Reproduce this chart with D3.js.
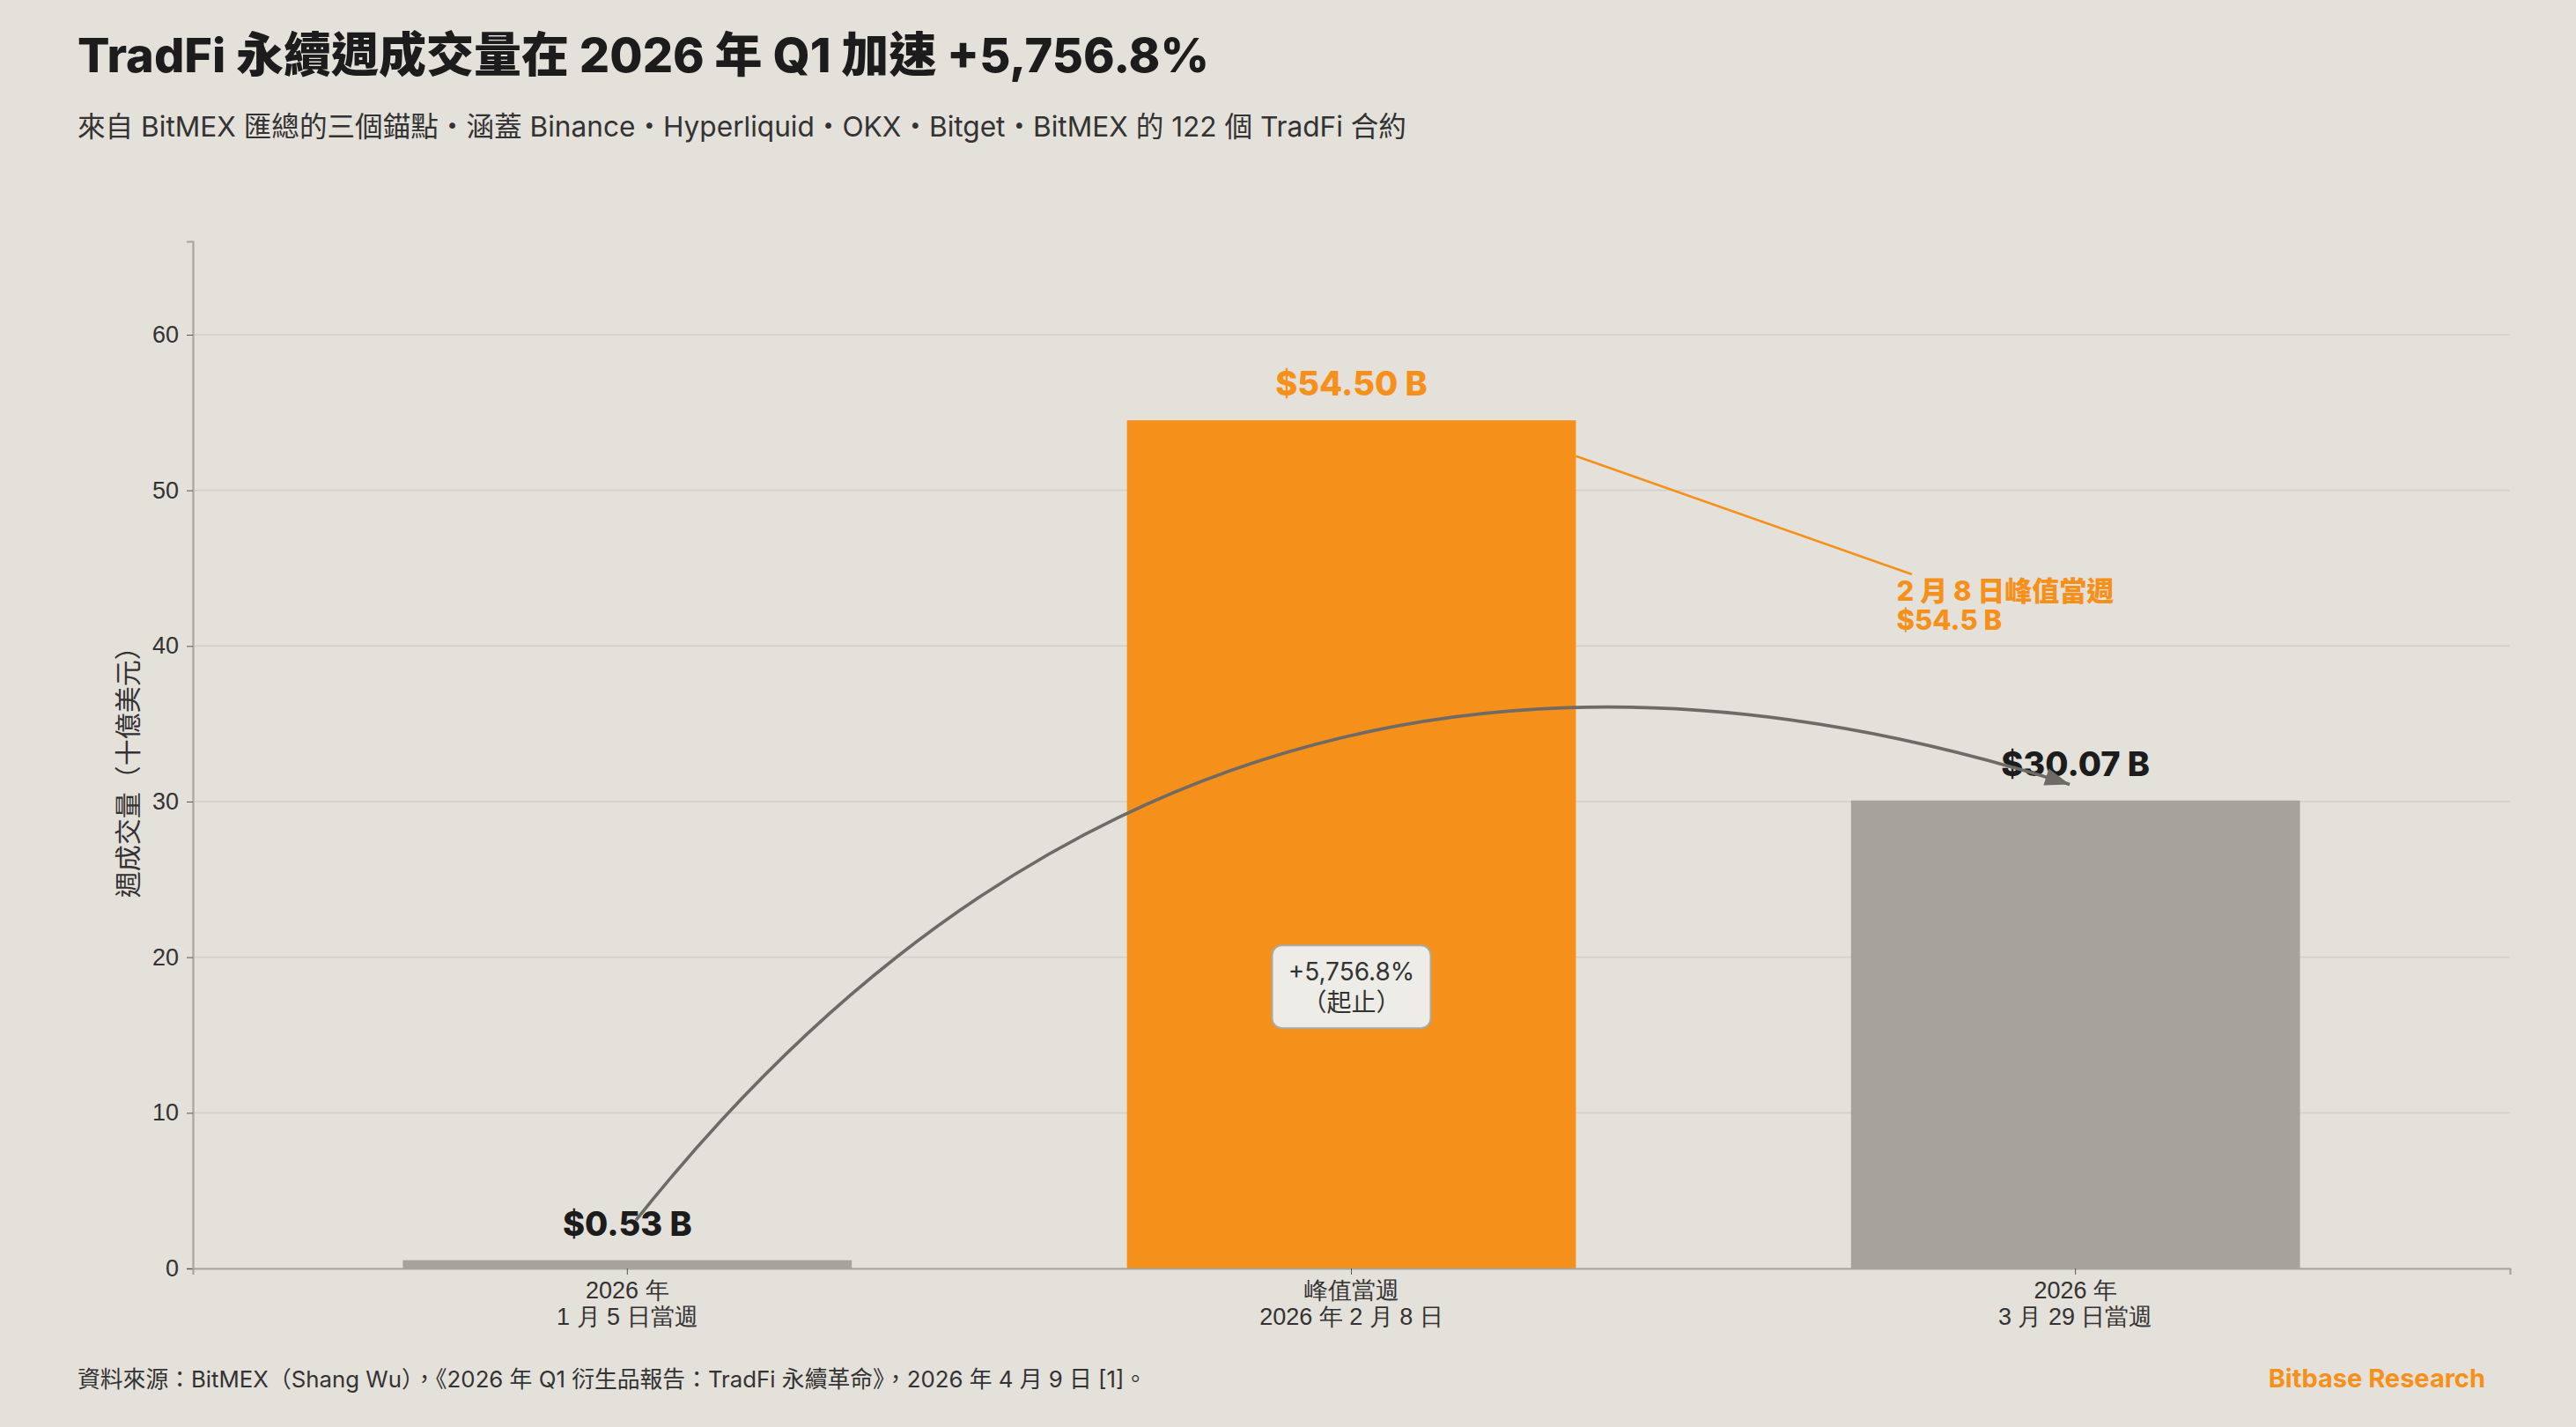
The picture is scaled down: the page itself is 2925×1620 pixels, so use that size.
<!DOCTYPE html>
<html>
<head>
<meta charset="utf-8">
<script src="https://cdn.jsdelivr.net/npm/d3@7"></script>
<style>
  html, body { margin: 0; padding: 0; background: #e4e0da; }
  svg { display: block; font-family: Inter, "Noto Sans CJK TC", sans-serif; }
</style>
</head>
<body>
<svg width="2925" height="1620"></svg>
<script>
// chart data
const categories = ["2026 年\n1 月 5 日當週", "峰值當週\n2026 年 2 月 8 日", "2026 年\n3 月 29 日當週"]
const values = [0.53, 54.50, 30.07]
const valueLabels = ["$0.53 B", "$54.50 B", "$30.07 B"]
const yTicks = [0, 10, 20, 30, 40, 50, 60]
const peakNote = ["2 月 8 日峰值當週", "$54.5 B"]
const changeNote = ["+5,756.8%", "（起止）"]

const orange = "#f5901a"
const grey = "#a6a29c"
const ink = "#1c1c1c"

const svg = d3.select("svg")
const margin = { top: 274, right: 75, bottom: 180, left: 219 }
const width = +svg.attr("width") - margin.left - margin.right
const height = +svg.attr("height") - margin.top - margin.bottom
const g = svg.append("g").attr("transform", `translate(${margin.left},${margin.top})`)

const x = d3.scaleBand()
  .domain(categories)
  .range([0, width])
  .paddingInner(0.38)
  .paddingOuter(0.29)

const y = d3.scaleLinear().domain([0, 66]).range([height, 0])

// position between categories, in index units
const xAt = (i) => x(categories[0]) + x.bandwidth() / 2 + i * x.step()

// grid
g.append("g")
  .selectAll("line")
  .data(yTicks)
  .join("line")
  .attr("x1", 0)
  .attr("x2", width)
  .attr("y1", (d) => y(d))
  .attr("y2", (d) => y(d))
  .attr("stroke", "#d5d0c9")
  .attr("stroke-width", 1.6)

// bars
g.selectAll(".bar")
  .data(values)
  .join("rect")
  .attr("class", "bar")
  .attr("x", (d, i) => x(categories[i]))
  .attr("y", (d) => y(d))
  .attr("width", x.bandwidth())
  .attr("height", (d) => height - y(d))
  .attr("fill", (d, i) => (i === 1 ? orange : grey))

// y axis
const yAxis = g.append("g")
  .call(d3.axisLeft(y).tickValues(yTicks).tickSize(7).tickPadding(9))
yAxis.select(".domain").attr("stroke", "#a8a49e").attr("stroke-width", 2.2)
yAxis.selectAll(".tick line").attr("stroke", "#555")
yAxis.selectAll(".tick text")
  .attr("fill", "#333")
  .style("font-size", "27px")

// x axis
const xAxis = g.append("g")
  .attr("transform", `translate(0,${height})`)
  .call(d3.axisBottom(x).tickSize(7).tickPadding(8))
xAxis.select(".domain").attr("stroke", "#a8a49e").attr("stroke-width", 2.2)
xAxis.selectAll(".tick line").attr("stroke", "#555")
xAxis.selectAll(".tick text")
  .attr("fill", "#333")
  .style("font-size", "27px")
  .each(function (d) {
    const t = d3.select(this)
    const lines = d.split("\n")
    t.text(null)
    lines.forEach((l, k) => {
      t.append("tspan").attr("x", 0).attr("dy", k === 0 ? "0.71em" : "1.12em").text(l)
    })
  })

// y axis title
g.append("text")
  .attr("transform", `translate(${145 - margin.left},${y(32.3)}) rotate(-90)`)
  .attr("text-anchor", "middle")
  .attr("dominant-baseline", "central")
  .attr("fill", "#333")
  .style("font-size", "30px")
  .text("週成交量（十億美元）")

// value labels
g.selectAll(".val")
  .data(values)
  .join("text")
  .attr("class", "val")
  .attr("x", (d, i) => x(categories[i]) + x.bandwidth() / 2)
  .attr("y", (d) => y(d) - 28)
  .attr("text-anchor", "middle")
  .attr("fill", (d, i) => (i === 1 ? orange : ink))
  .style("font-size", "38px")
  .style("font-weight", 800)
  .text((d, i) => valueLabels[i])

// peak callout
g.append("line")
  .attr("x1", xAt(1.31))
  .attr("y1", y(52.2))
  .attr("x2", xAt(1.774))
  .attr("y2", y(44.6))
  .attr("stroke", orange)
  .attr("stroke-width", 2.6)

const peak = g.append("text")
  .attr("x", xAt(1.753))
  .attr("y", y(42.9))
  .attr("fill", orange)
  .style("font-size", "31px")
  .style("font-weight", 800)
peakNote.forEach((l, k) => {
  peak.append("tspan").attr("x", xAt(1.753)).attr("dy", k === 0 ? 0 : 33).text(l)
})

// change box
const bx = xAt(1), by = y(18.1)
g.append("rect")
  .attr("x", bx - 90)
  .attr("y", by - 47)
  .attr("width", 180)
  .attr("height", 94)
  .attr("rx", 11)
  .attr("fill", "#eeece6")
  .attr("stroke", "#aca8a2")
  .attr("stroke-width", 2)
const box = g.append("text")
  .attr("text-anchor", "middle")
  .attr("fill", "#333")
  .style("font-size", "28px")
changeNote.forEach((l, k) => {
  box.append("tspan").attr("x", bx).attr("y", by - 7 + k * 35).text(l)
})

// curved arrow, arc3 style
const p0 = [xAt(0.012), y(3.1)]
const p2 = [xAt(1.992), y(31.1)]
const rad = 0.345
const dx = p2[0] - p0[0], dy = p2[1] - p0[1]
const c = [(p0[0] + p2[0]) / 2 + rad * dy, (p0[1] + p2[1]) / 2 - rad * dx]
g.append("path")
  .attr("d", `M${p0[0]},${p0[1]} Q${c[0]},${c[1]} ${p2[0]},${p2[1]}`)
  .attr("fill", "none")
  .attr("stroke", "#6e6a65")
  .attr("stroke-width", 3.6)
const ang = Math.atan2(p2[1] - c[1], p2[0] - c[0])
const hl = 28, hw = 10
const base = [p2[0] - hl * Math.cos(ang), p2[1] - hl * Math.sin(ang)]
g.append("path")
  .attr("d", `M${p2[0]},${p2[1]} L${base[0] - hw * Math.sin(ang)},${base[1] + hw * Math.cos(ang)} L${base[0] + hw * Math.sin(ang)},${base[1] - hw * Math.cos(ang)} Z`)
  .attr("fill", "#6e6a65")

// titles
svg.append("text")
  .attr("x", 88)
  .attr("y", 82)
  .attr("fill", ink)
  .style("font-size", "54px")
  .style("font-weight", 800)
  .text("TradFi 永續週成交量在 2026 年 Q1 加速 +5,756.8%")

svg.append("text")
  .attr("x", 88)
  .attr("y", 155)
  .attr("fill", "#333")
  .style("font-size", "31.6px")
  .text("來自 BitMEX 匯總的三個錨點・涵蓋 Binance・Hyperliquid・OKX・Bitget・BitMEX 的 122 個 TradFi 合約")

// footer
svg.append("text")
  .attr("x", 88)
  .attr("y", 1575)
  .attr("fill", "#333")
  .style("font-size", "25.8px")
  .text("資料來源：BitMEX（Shang Wu），《2026 年 Q1 衍生品報告：TradFi 永續革命》，2026 年 4 月 9 日 [1]。")

svg.append("text")
  .attr("x", 2822)
  .attr("y", 1575)
  .attr("text-anchor", "end")
  .attr("fill", orange)
  .style("font-size", "29px")
  .style("font-weight", 700)
  .text("Bitbase Research")
</script>
</body>
</html>
